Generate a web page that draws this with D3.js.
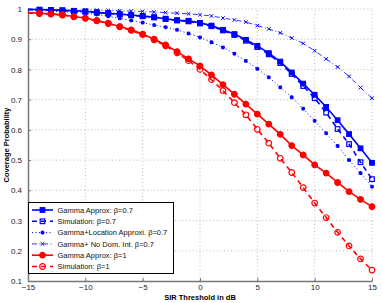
<!DOCTYPE html>
<html>
<head>
<meta charset="utf-8">
<script src="https://cdn.jsdelivr.net/npm/d3@7"></script>
<style>
  body { margin: 0; background: #fff; }
  text { font-family: "Liberation Sans", Arial, sans-serif; }
</style>
</head>
<body>
<div id="chart"></div>
<script>
const width = 382, height = 303;
const margin = { top: 9, right: 10, bottom: 22, left: 28 };

const sirDb = d3.range(-15, 16);
const xTicks = [-15, -10, -5, 0, 5, 10, 15];
const yTicks = [0.1, 0.2, 0.3, 0.4, 0.5, 0.6, 0.7, 0.8, 0.9, 1];

const gammaB07 = [0.999, 0.998, 0.997, 0.996, 0.994, 0.992, 0.989, 0.986, 0.983, 0.980, 0.977, 0.973, 0.968, 0.963, 0.961, 0.954,
  0.945, 0.931, 0.917, 0.898, 0.878, 0.854, 0.826, 0.790, 0.753, 0.716, 0.676, 0.632, 0.586, 0.539, 0.491];
const simB07 = [0.998, 0.997, 0.996, 0.995, 0.993, 0.991, 0.988, 0.985, 0.982, 0.979, 0.976, 0.972, 0.967, 0.962, 0.959, 0.952,
  0.943, 0.929, 0.914, 0.895, 0.874, 0.850, 0.821, 0.785, 0.745, 0.705, 0.657, 0.603, 0.553, 0.493, 0.437];
const gammaLocB07 = [0.996, 0.995, 0.993, 0.991, 0.989, 0.986, 0.982, 0.976, 0.969, 0.962, 0.955, 0.947, 0.940, 0.931, 0.919, 0.906,
  0.890, 0.873, 0.852, 0.828, 0.802, 0.774, 0.741, 0.708, 0.670, 0.630, 0.589, 0.547, 0.500, 0.457, 0.412];
const gammaNoDomB07 = [0.999, 0.999, 0.998, 0.998, 0.997, 0.997, 0.996, 0.995, 0.994, 0.993, 0.992, 0.990, 0.988, 0.986, 0.984, 0.981,
  0.977, 0.970, 0.964, 0.957, 0.945, 0.934, 0.921, 0.904, 0.886, 0.862, 0.835, 0.808, 0.777, 0.740, 0.705];
const gammaB1 = [0.988, 0.986, 0.984, 0.981, 0.975, 0.970, 0.962, 0.953, 0.942, 0.931, 0.917, 0.900, 0.881, 0.859, 0.835, 0.812,
  0.782, 0.750, 0.718, 0.685, 0.652, 0.619, 0.585, 0.548, 0.517, 0.484, 0.457, 0.426, 0.396, 0.370, 0.346];
const simB1 = [0.987, 0.985, 0.983, 0.980, 0.974, 0.969, 0.961, 0.952, 0.941, 0.929, 0.915, 0.898, 0.878, 0.855, 0.829, 0.800,
  0.766, 0.730, 0.690, 0.650, 0.602, 0.556, 0.506, 0.459, 0.409, 0.358, 0.310, 0.261, 0.216, 0.173, 0.136];

const seriesNames = ["Gamma Approx: \u03b2=0.7", "Simulation: \u03b2=0.7", "Gamma+Location Approxi. \u03b2=0.7",
  "Gamma+ No Dom. Int. \u03b2=0.7", "Gamma Approx: \u03b2=1", "Simulation: \u03b2=1"];

const series = [
  { name: seriesNames[0], values: gammaB07, color: "#0000ff", dash: null, marker: "squareFilled", w: 1.6 },
  { name: seriesNames[1], values: simB07, color: "#0000ff", dash: "5,4", marker: "square", w: 1.6 },
  { name: seriesNames[2], values: gammaLocB07, color: "#0000ff", dash: "1,2.5", marker: "star", w: 1 },
  { name: seriesNames[3], values: gammaNoDomB07, color: "#0000ff", dash: "5,2.5,1,2.5", marker: "cross", w: 0.8 },
  { name: seriesNames[4], values: gammaB1, color: "#ff0000", dash: null, marker: "circleFilled", w: 1.6 },
  { name: seriesNames[5], values: simB1, color: "#ff0000", dash: "5,4", marker: "circle", w: 1.6 }
];

const svg = d3.select("#chart").append("svg")
  .attr("width", width)
  .attr("height", height);

const x = d3.scaleLinear().domain([-15, 15]).range([margin.left, width - margin.right]);
const y = d3.scaleLinear().domain([0.1, 1]).range([height - margin.bottom, margin.top]);

// grid
svg.append("g").selectAll("line").data(xTicks.slice(1)).join("line")
  .attr("x1", d => x(d)).attr("x2", d => x(d))
  .attr("y1", y(0.1)).attr("y2", y(1))
  .attr("stroke", "#aaa").attr("stroke-width", 0.8).attr("stroke-dasharray", "1,2.5");
svg.append("g").selectAll("line").data(yTicks.slice(1)).join("line")
  .attr("x1", x(-15)).attr("x2", x(15))
  .attr("y1", d => y(d)).attr("y2", d => y(d))
  .attr("stroke", "#aaa").attr("stroke-width", 0.8).attr("stroke-dasharray", "1,2.5");

// axes
const xAxis = d3.axisBottom(x).tickValues(xTicks).tickSizeInner(-3).tickSizeOuter(0).tickPadding(3)
  .tickFormat(d => d < 0 ? "\u2212" + Math.abs(d) : d);
const gx = svg.append("g").attr("transform", `translate(0,${y(0.1)})`).call(xAxis);
const yAxis = d3.axisLeft(y).tickValues(yTicks).tickSizeInner(-3).tickSizeOuter(0).tickPadding(6)
  .tickFormat(d => d === 1 ? "1" : d3.format(".1f")(d));
const gy = svg.append("g").attr("transform", `translate(${x(-15)},0)`).call(yAxis);
[gx, gy].forEach(g => {
  g.select(".domain").attr("stroke", "#777").attr("stroke-width", 1.5);
  g.selectAll(".tick line").attr("stroke", "#777");
  g.selectAll(".tick text").attr("font-size", 8).attr("fill", "#222");
});

svg.append("text")
  .attr("x", x(0)).attr("y", 300)
  .attr("text-anchor", "middle")
  .attr("font-size", 7.5).attr("font-weight", "bold")
  .text("SIR Threshold in dB");
svg.append("text")
  .attr("transform", `translate(9,${(y(0.1) + y(1)) / 2}) rotate(-90)`)
  .attr("text-anchor", "middle")
  .attr("font-size", 7.5).attr("font-weight", "bold")
  .text("Coverage Probability");

function drawMarker(g, type, color) {
  if (type === "squareFilled" || type === "square") {
    g.append("rect").attr("x", -2.3).attr("y", -2.3).attr("width", 4.6).attr("height", 4.6)
      .attr("fill", type === "squareFilled" ? color : "none").attr("stroke", color).attr("stroke-width", 1.2);
  } else if (type === "circleFilled" || type === "circle") {
    g.append("circle").attr("r", 2.8)
      .attr("fill", type === "circleFilled" ? color : "none").attr("stroke", color).attr("stroke-width", 1.2);
  } else if (type === "cross") {
    g.append("path").attr("d", "M-1.8,-1.8L1.8,1.8M-1.8,1.8L1.8,-1.8").attr("stroke", color).attr("stroke-width", 1);
  } else if (type === "star") {
    g.append("path").attr("d", "M-2,0H2M0,-2V2M-1.5,-1.5L1.5,1.5M-1.5,1.5L1.5,-1.5")
      .attr("stroke", color).attr("stroke-width", 1.1);
  }
}

const line = d3.line().x((d, i) => x(sirDb[i])).y(d => y(d));

series.forEach(s => {
  svg.append("path")
    .attr("d", line(s.values))
    .attr("fill", "none")
    .attr("stroke", s.color)
    .attr("stroke-width", s.w)
    .attr("stroke-dasharray", s.dash);
  s.values.forEach((v, i) => {
    if (sirDb[i] === -15) return;
    const g = svg.append("g").attr("transform", `translate(${x(sirDb[i])},${y(v)})`);
    drawMarker(g, s.marker, s.color);
  });
});

// legend
const legend = svg.append("g");
legend.append("rect")
  .attr("x", 28.5).attr("y", 202.5).attr("width", 145).attr("height", 71)
  .attr("fill", "#fff").attr("stroke", "#000").attr("stroke-width", 1);
series.forEach((s, i) => {
  const ly = 210 + i * 11.3;
  legend.append("line")
    .attr("x1", 32).attr("x2", 53).attr("y1", ly).attr("y2", ly)
    .attr("stroke", s.color).attr("stroke-width", s.w).attr("stroke-dasharray", s.dash);
  drawMarker(legend.append("g").attr("transform", `translate(42.5,${ly})`), s.marker, s.color);
  legend.append("text")
    .attr("x", 57.5).attr("y", ly + 2.7)
    .attr("font-size", 7.5).attr("fill", "#111")
    .text(s.name);
});
</script>
</body>
</html>
